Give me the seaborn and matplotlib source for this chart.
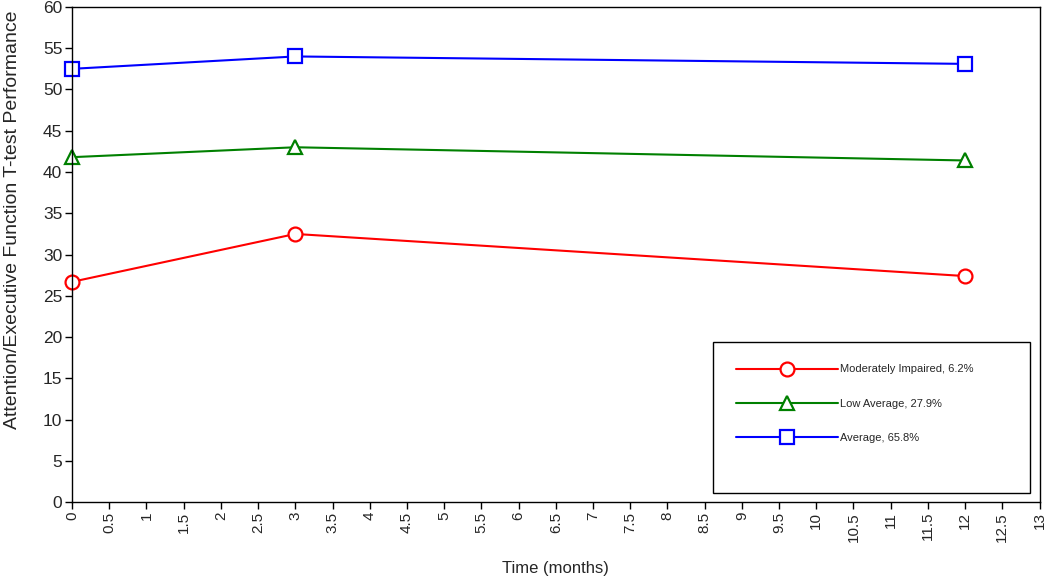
import pandas as pd
import numpy as np
import matplotlib
matplotlib.use('Agg')
import matplotlib.pyplot as plt
from matplotlib.patches import Rectangle
import seaborn as sns

# Datos
months = [0, 3, 12]
moderately_impaired = [26.7, 32.5, 27.4]
low_average = [41.8, 43.0, 41.4]
average = [52.5, 54.0, 53.1]
groups = ['Moderately Impaired, 6.2%', 'Low Average, 27.9%', 'Average, 65.8%']
x_ticks = np.arange(0, 13.5, 0.5)
x_tick_labels = ['%g' % t for t in x_ticks]
y_ticks = list(range(0, 65, 5))

df = pd.DataFrame({
    'Time': months * 3,
    'Score': moderately_impaired + low_average + average,
    'Group': [groups[0]] * 3 + [groups[1]] * 3 + [groups[2]] * 3,
})

sns.set_style('white')
plt.rcParams['font.family'] = ['Liberation Sans', 'DejaVu Sans']

fig = plt.figure(figsize=(10.5, 5.76), dpi=100)
ax = fig.add_axes([0.0686, 0.128, 0.9214, 0.860])

palette = {groups[0]: '#ff0000', groups[1]: '#008000', groups[2]: '#0000ff'}
markers = {groups[0]: 'o', groups[1]: '^', groups[2]: 's'}
sns.lineplot(data=df, x='Time', y='Score', hue='Group', style='Group',
             palette=palette, markers=markers, dashes=False, ax=ax,
             linewidth=1.5, markersize=10, markerfacecolor='white',
             markeredgewidth=1.6, clip_on=False)

# Marcadores con fondo blanco y borde del color de la serie
for line in ax.get_lines():
    line.set_markeredgecolor(line.get_color())
    line.set_markerfacecolor('white')

ax.set_xlim(0, 13)
ax.set_ylim(0, 60)
ax.set_xticks(x_ticks)
ax.set_xticklabels(x_tick_labels, rotation=90, fontsize=11)
ax.set_yticks(y_ticks)
ax.tick_params(axis='y', labelsize=12.5)
ax.tick_params(axis='both', direction='out', length=5, width=1, color='black',
               bottom=True, left=True, pad=2)
for s in ax.spines.values():
    s.set_color('black')
    s.set_linewidth(1)

ax.set_xlabel('Time (months)', fontsize=12, labelpad=14)
ax.set_ylabel('Attention/Executive Function T-test Performance', fontsize=14,
              labelpad=12)
ax.yaxis.set_label_coords(-0.053, 0.57)

# Marco de la leyenda (más alto que su contenido, como en el original)
ax.add_patch(Rectangle((0.663, 0.018), 0.327, 0.305, transform=ax.transAxes,
                       fill=False, edgecolor='black', linewidth=1, zorder=5))
leg = ax.legend(loc='upper left', bbox_to_anchor=(0.663, 0.323),
                frameon=False, fontsize=8, handlelength=9.2,
                labelspacing=2.2, borderpad=2.0, handletextpad=0.15,
                borderaxespad=0)
for h in leg.legend_handles:
    h.set_markerfacecolor('white')
    h.set_markeredgecolor(h.get_color())

fig.savefig('out.png', dpi=100)
